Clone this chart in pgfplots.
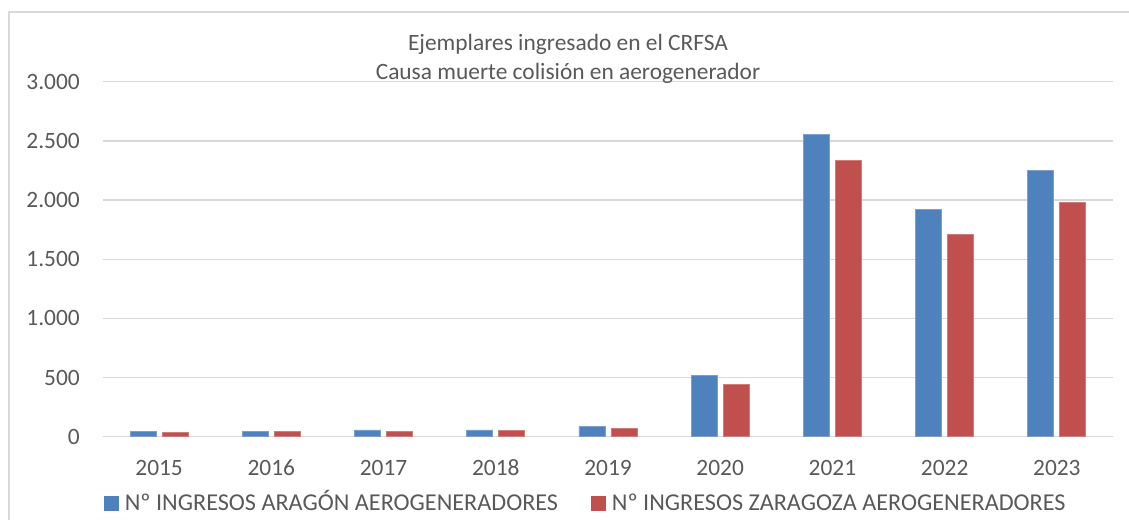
\documentclass[border=0pt]{standalone}
\usepackage{fontspec}
\setmainfont{Carlito}
\usepackage{pgfplots}
\pgfplotsset{compat=1.18}
\definecolor{cblue}{HTML}{4F81BD}
\definecolor{cred}{HTML}{C0504D}
\definecolor{txt}{HTML}{595959}
\definecolor{gridc}{HTML}{D9D9D9}
\begin{document}
\begin{tikzpicture}[font=\fontsize{23.4bp}{28bp}\selectfont]
\path[use as bounding box] (0,0) rectangle (1129bp,520bp);
\draw[gridc, line width=1.3bp] (9bp,0) -- (9bp,508bp) -- (1129bp,508bp);
\begin{axis}[
  at={(103bp,83.3bp)}, anchor=south west,
  scale only axis, width=1010bp, height=355bp,
  ybar=6bp, bar width=26bp,
  xmin=-0.5, xmax=8.5, ymin=0, ymax=3000,
  xtick={0,...,8},
  xticklabels={2015,2016,2017,2018,2019,2020,2021,2022,2023},
  ytick={0,500,...,3000},
  scaled y ticks=false,
  /pgf/number format/1000 sep={.},
  /pgf/number format/assume math mode=true,
  ymajorgrids, major grid style={gridc, line width=1.3bp},
  axis line style={draw=none},
  major tick length=0pt,
  tick label style={text=txt, inner sep=0pt},
  yticklabel style={anchor=east, xshift=-23bp},
  xticklabel style={anchor=base, yshift=-38.3bp},
  legend columns=2,
  legend style={at={(0.001,-0.212)}, anchor=south west, draw=none, fill=none,
    inner sep=0pt, outer sep=0pt, text=txt,
    font=\fontsize{24.2bp}{28bp}\selectfont,
    nodes={inner sep=0pt, anchor=base west},
    cells={anchor=base west},
    /tikz/every odd column/.append style={column sep=6bp},
    /tikz/every even column/.append style={column sep=33bp}},
]
\addplot[fill=cblue, draw=cblue!75!white, line width=0.8bp, legend image code/.code={\fill[cblue] (0bp,0bp) rectangle (14bp,14bp);}]
  coordinates {(0,48) (1,48) (2,57) (3,57) (4,85) (5,520) (6,2555) (7,1918) (8,2252)};
\addplot[fill=cred, draw=cred!75!white, line width=0.8bp, legend image code/.code={\fill[cred] (0bp,0bp) rectangle (14bp,14bp);}]
  coordinates {(0,37) (1,45) (2,45) (3,54) (4,71) (5,438) (6,2331) (7,1712) (8,1983)};
\legend{Nº INGRESOS ARAGÓN AEROGENERADORES, Nº INGRESOS ZARAGOZA AEROGENERADORES}
\end{axis}
\node[anchor=base, text=txt, inner sep=0pt] at (568bp,469bp) {Ejemplares ingresado en el CRFSA};
\node[anchor=base, text=txt, inner sep=0pt] at (568bp,440.7bp) {Causa muerte colisión en aerogenerador};
\end{tikzpicture}
\end{document}
